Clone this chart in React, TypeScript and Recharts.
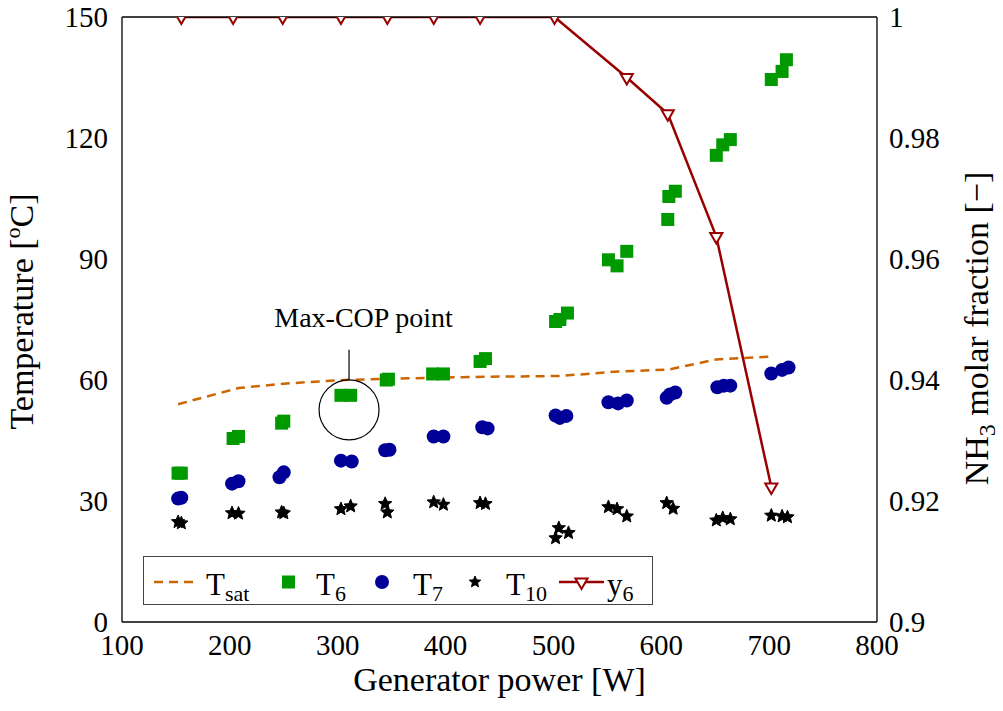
import {
  ComposedChart,
  Legend,
  Line,
  ReferenceDot,
  ReferenceLine,
  Scatter,
  XAxis,
  YAxis,
} from "recharts";

const FONT = "'Liberation Serif', 'Times New Roman', Times, 'DejaVu Serif', serif";
const GREEN = "#009900";
const BLUE = "#000099";
const RED = "#990000";
const ORANGE = "#cc6600";
const TICK_GREY = "#777";

const powerTicks = [100, 200, 300, 400, 500, 600, 700, 800];
const tempTicks = [0, 30, 60, 90, 120, 150];
const fractionTicks = [0.9, 0.92, 0.94, 0.96, 0.98, 1];

// saturation temperature (dashed)
const tsatPower = [152, 208, 250, 306, 347, 394, 436, 506, 560, 607, 651, 702];
const tsatTemp = [54.0, 58.0, 59.1, 60.0, 60.3, 60.6, 60.8, 61.0, 62.1, 62.6, 65.1, 65.8];

// T6 squares
const t6Power = [
  152, 155, 203, 208, 248, 250, 303, 312, 345, 347, 388, 398, 432, 437, 502, 506, 513, 551, 559,
  568, 606, 607, 613, 651, 657, 664, 702, 712, 716,
];
const t6Temp = [
  36.9, 36.9, 45.5, 46.0, 49.3, 49.8, 56.2, 56.2, 60.0, 60.2, 61.5, 61.5, 64.6, 65.3, 74.5, 75.0,
  76.6, 89.8, 88.3, 91.9, 99.8, 105.5, 106.8, 115.7, 118.3, 119.6, 134.5, 136.5, 139.4,
];

// T7 circles
const t7Power = [
  152, 155, 202, 208, 246, 250, 303, 313, 344, 348, 389, 398, 434, 439, 502, 506, 512, 551, 560,
  568, 605, 608, 613, 652, 658, 664, 702, 712, 718,
];
const t7Temp = [
  30.6, 30.8, 34.3, 34.9, 35.9, 37.1, 40.0, 39.8, 42.6, 42.7, 46.0, 46.0, 48.3, 48.0, 51.2, 50.6,
  51.1, 54.5, 54.2, 54.9, 55.6, 56.4, 56.9, 58.2, 58.6, 58.6, 61.6, 62.5, 63.1,
];

// T10 stars
const t10Power = [
  152, 155, 202, 208, 248, 250, 303, 312, 344, 346, 389, 398, 432, 437, 502, 505, 514, 551, 559,
  568, 605, 611, 651, 657, 664, 702, 712, 717,
];
const t10Temp = [
  24.8, 24.5, 27.0, 26.9, 27.2, 27.0, 28.0, 28.7, 29.3, 27.2, 29.7, 29.1, 29.5, 29.3, 20.8, 23.3,
  22.1, 28.5, 28.0, 26.2, 29.5, 28.1, 25.2, 25.8, 25.5, 26.4, 26.2, 26.0,
];

// NH3 molar fraction y6 (right axis)
const y6Power = [155, 203, 249, 303, 346, 389, 432, 501, 568, 606, 651, 702];
const y6Fraction = [1, 1, 1, 1, 1, 1, 1, 1, 0.99, 0.984, 0.9637, 0.9223];

// Max-COP annotation
const maxCopPower = 310.5;
const maxCopTemp = 52.6;
const maxCopLineFrom = 60.1;
const maxCopLineTo = 67.5;
const maxCopTextPower = 324;
const maxCopTextTemp = 73.2;

const zip = (xs: number[], ys: number[]) => xs.map((x, i) => ({ x, y: ys[i] }));

const tsatData = zip(tsatPower, tsatTemp);
const t6Data = zip(t6Power, t6Temp);
const t7Data = zip(t7Power, t7Temp);
const t10Data = zip(t10Power, t10Temp);
const y6Data = zip(y6Power, y6Fraction);

function SquareMark(props: any) {
  const { cx, cy } = props;
  if (cx == null || cy == null) return null;
  return <rect x={cx - 6.5} y={cy - 6.5} width={13} height={13} fill={GREEN} />;
}

function CircleMark(props: any) {
  const { cx, cy } = props;
  if (cx == null || cy == null) return null;
  return <circle cx={cx} cy={cy} r={7} fill={BLUE} />;
}

// five-pointed star outline, filled
function starPoints(cx: number, cy: number, r: number) {
  const pts: string[] = [];
  for (let k = 0; k < 10; k++) {
    const a = (-90 + k * 36) * (Math.PI / 180);
    const rr = k % 2 === 0 ? r : r * 0.45;
    pts.push(`${cx + rr * Math.cos(a)},${cy + rr * Math.sin(a)}`);
  }
  return pts.join(" ");
}

function StarMark(props: any) {
  const { cx, cy } = props;
  if (cx == null || cy == null) return null;
  return (
    <polygon
      points={starPoints(cx, cy, 7)}
      fill="#000"
      stroke="#000"
      strokeWidth={1}
      strokeLinejoin="round"
    />
  );
}

function triPoints(cx: number, cy: number, r: number) {
  const h = r * 0.866;
  return `${cx - h},${cy - r / 2} ${cx + h},${cy - r / 2} ${cx},${cy + r}`;
}

function TriangleMark(props: any) {
  const { cx, cy } = props;
  if (cx == null || cy == null) return null;
  return <polygon points={triPoints(cx, cy, 7)} fill="#fff" stroke={RED} strokeWidth={2} />;
}

function LegendBox() {
  const base = 39;
  const mid = 26;
  const txt = { fontSize: 31, fill: "#000" };
  return (
    <svg width={510} height={49} style={{ display: "block" }}>
      <rect x={0.5} y={0.5} width={509} height={48} fill="#fff" stroke="#444" strokeWidth={1} />
      <line x1={11} y1={mid} x2={50} y2={mid} stroke={ORANGE} strokeWidth={2.5} strokeDasharray="9 6" />
      <text x={63} y={base} {...txt}>
        T<tspan fontSize={22} dy={6}>sat</tspan>
      </text>
      <rect x={139} y={mid - 6.5} width={13} height={13} fill={GREEN} />
      <text x={173} y={base} {...txt}>
        T<tspan fontSize={22} dy={6}>6</tspan>
      </text>
      <circle cx={239} cy={mid} r={7} fill={BLUE} />
      <text x={270} y={base} {...txt}>
        T<tspan fontSize={22} dy={6}>7</tspan>
      </text>
      <polygon points={starPoints(332, mid, 6)} fill="#000" stroke="#000" strokeWidth={1} />
      <text x={363} y={base} {...txt}>
        T<tspan fontSize={22} dy={6}>10</tspan>
      </text>
      <line x1={416} y1={mid} x2={461} y2={mid} stroke={RED} strokeWidth={2.5} />
      <polygon points={triPoints(438.5, mid, 7)} fill="#fff" stroke={RED} strokeWidth={2} />
      <text x={464} y={base} {...txt}>
        y<tspan fontSize={22} dy={6}>6</tspan>
      </text>
    </svg>
  );
}

const tickStyle = { fontSize: 29, fill: "#000" };
const frame = { stroke: "#000", strokeWidth: 1.3 };

export default function App() {
  return (
    <div style={{ position: "absolute", left: 0, top: 0, background: "#fff" }}>
      <style>{`svg text, svg tspan { font-family: ${FONT} !important; }`}</style>
      <ComposedChart width={1003} height={711} margin={{ top: 17, right: 0, bottom: 0, left: 0 }}>
        <XAxis
          xAxisId="b"
          type="number"
          dataKey="x"
          domain={[100, 800]}
          ticks={powerTicks}
          height={89}
          tickLine={false}
          tickSize={0}
          tickMargin={12}
          axisLine={frame}
          tick={tickStyle}
          allowDataOverflow
          label={(p: any) => {
            const vb = p.viewBox;
            return (
              <text
                x={vb.x + vb.width / 2}
                y={vb.y + vb.height - 20}
                textAnchor="middle"
                fontSize={34}
                fill="#000"
              >
                Generator power [W]
              </text>
            );
          }}
        />
        <XAxis
          xAxisId="bm"
          type="number"
          orientation="bottom"
          mirror
          domain={[100, 800]}
          ticks={powerTicks}
          tick={false}
          tickSize={10}
          tickLine={{ stroke: TICK_GREY }}
          axisLine={false}
          allowDataOverflow
        />
        <XAxis
          xAxisId="t"
          type="number"
          orientation="top"
          mirror
          domain={[100, 800]}
          ticks={powerTicks}
          tick={false}
          tickSize={10}
          tickLine={{ stroke: TICK_GREY }}
          axisLine={frame}
          allowDataOverflow
        />
        <YAxis
          yAxisId="l"
          type="number"
          dataKey="y"
          domain={[0, 150]}
          ticks={tempTicks}
          width={122}
          tickLine={false}
          tickSize={0}
          tickMargin={14}
          axisLine={frame}
          tick={tickStyle}
          allowDataOverflow
          label={(p: any) => {
            const vb = p.viewBox;
            const x = vb.x + 33;
            const y = vb.y + vb.height / 2 - 8;
            return (
              <text
                x={x}
                y={y}
                transform={`rotate(-90, ${x}, ${y})`}
                textAnchor="middle"
                fontSize={34}
                fill="#000"
              >
                Temperature [<tspan fontSize={22} dy={-13}>o</tspan>
                <tspan dy={13}>C]</tspan>
              </text>
            );
          }}
        />
        <YAxis
          yAxisId="lm"
          type="number"
          orientation="left"
          mirror
          domain={[0, 150]}
          ticks={tempTicks}
          tick={false}
          tickSize={10}
          tickLine={{ stroke: TICK_GREY }}
          axisLine={false}
          allowDataOverflow
        />
        <YAxis
          yAxisId="r"
          type="number"
          dataKey="y"
          orientation="right"
          domain={[0.9, 1]}
          ticks={fractionTicks}
          width={126}
          tickLine={false}
          tickSize={0}
          tickMargin={12}
          axisLine={frame}
          tick={tickStyle}
          tickFormatter={(v: number) => String(Number(v.toFixed(2)))}
          allowDataOverflow
          label={(p: any) => {
            const vb = p.viewBox;
            const x = vb.x + 111;
            const y = vb.y + vb.height / 2 + 9;
            return (
              <text
                x={x}
                y={y}
                transform={`rotate(-90, ${x}, ${y})`}
                textAnchor="middle"
                fontSize={34}
                fill="#000"
              >
                NH<tspan fontSize={24} dy={7}>3</tspan>
                <tspan dy={-7}> molar fraction [−]</tspan>
              </text>
            );
          }}
        />
        <YAxis
          yAxisId="rm"
          type="number"
          orientation="right"
          mirror
          domain={[0.9, 1]}
          ticks={fractionTicks}
          tick={false}
          tickSize={10}
          tickLine={{ stroke: TICK_GREY }}
          axisLine={false}
          allowDataOverflow
        />

        <Line
          xAxisId="b"
          yAxisId="l"
          data={tsatData}
          dataKey="y"
          type="linear"
          stroke={ORANGE}
          strokeWidth={2.5}
          strokeDasharray="9 6"
          dot={false}
          isAnimationActive={false}
        />
        <Scatter
          xAxisId="b"
          yAxisId="l"
          data={t6Data}
          dataKey="y"
          shape={SquareMark}
          isAnimationActive={false}
        />
        <Scatter
          xAxisId="b"
          yAxisId="l"
          data={t7Data}
          dataKey="y"
          shape={CircleMark}
          isAnimationActive={false}
        />
        <Scatter
          xAxisId="b"
          yAxisId="l"
          data={t10Data}
          dataKey="y"
          shape={StarMark}
          isAnimationActive={false}
        />

        <ReferenceLine
          xAxisId="b"
          yAxisId="l"
          segment={[
            { x: maxCopPower, y: maxCopLineFrom },
            { x: maxCopPower, y: maxCopLineTo },
          ]}
          stroke="#000"
          strokeWidth={1.2}
        />
        <ReferenceDot
          xAxisId="b"
          yAxisId="l"
          x={maxCopPower}
          y={maxCopTemp}
          r={30}
          fill="none"
          stroke="#000"
          strokeWidth={1.2}
        />
        <ReferenceDot
          xAxisId="b"
          yAxisId="l"
          x={maxCopTextPower}
          y={maxCopTextTemp}
          r={1}
          fill="none"
          stroke="none"
          label={(p: any) => {
            const vb = p.viewBox;
            const cx = vb.x + vb.width / 2;
            const cy = vb.y + vb.height / 2;
            return (
              <text x={cx} y={cy} textAnchor="middle" fontSize={28} fill="#000">
                Max-COP point
              </text>
            );
          }}
        />

        <Line
          xAxisId="b"
          yAxisId="r"
          data={y6Data}
          dataKey="y"
          type="linear"
          stroke={RED}
          strokeWidth={2.5}
          dot={(p: any) => <TriangleMark key={p.index} {...p} />}
          activeDot={false}
          isAnimationActive={false}
        />

        <Legend
          layout="horizontal"
          verticalAlign="middle"
          align="center"
          wrapperStyle={{ left: 143, top: 556, width: 510, height: 49 }}
          content={() => <LegendBox />}
        />
      </ComposedChart>
    </div>
  );
}
